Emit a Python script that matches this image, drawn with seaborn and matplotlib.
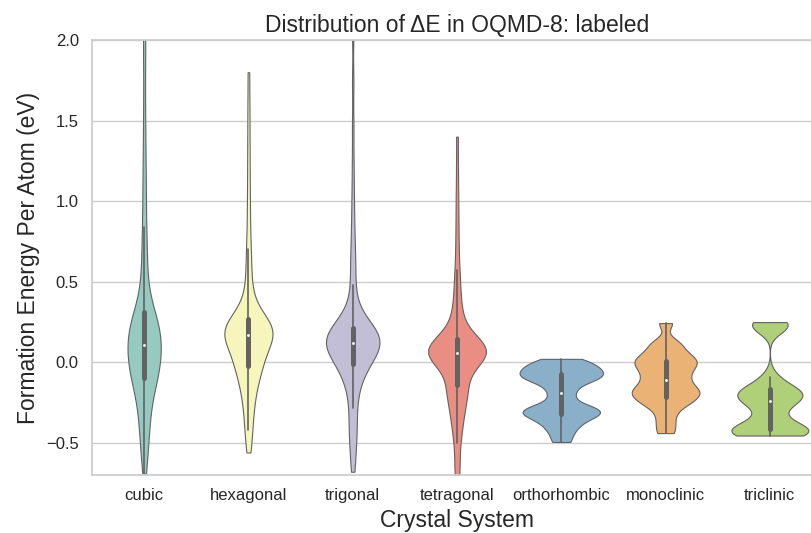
import pandas as pd
import matplotlib
matplotlib.use("Agg")
import matplotlib.pyplot as plt
import seaborn as sns

# Crystal systems in plotting order
systems = ["cubic", "hexagonal", "trigonal", "tetragonal",
           "orthorhombic", "monoclinic", "triclinic"]

# Formation energy per atom (eV) samples
cubic = [-0.69, -0.63, -0.58, -0.53, -0.49, -0.46, -0.43, -0.40, -0.37, -0.34,
         -0.31, -0.28, -0.26, -0.24, -0.22, -0.20, -0.18, -0.16, -0.14, -0.125,
         -0.11, -0.10,
         -0.095, -0.09, -0.08, -0.07, -0.06, -0.05, -0.04, -0.03, -0.02, -0.01,
         0.00, 0.01, 0.02, 0.03, 0.04, 0.05, 0.06, 0.07, 0.08, 0.09,
         0.10, 0.105,
         0.11, 0.115, 0.12, 0.13, 0.14, 0.15, 0.16, 0.17, 0.18, 0.19,
         0.20, 0.21, 0.22, 0.23, 0.24, 0.25, 0.26, 0.27, 0.28, 0.29,
         0.30, 0.305,
         0.32, 0.35, 0.38, 0.42, 0.46, 0.50, 0.55, 0.60, 0.66, 0.72,
         0.78, 0.84, 0.94, 1.02, 1.11, 1.21, 1.32, 1.45, 1.60, 1.78,
         1.95, 2.05]
hexagonal = [-0.56, -0.50, -0.46, -0.42, -0.38, -0.34, -0.31, -0.28, -0.25, -0.22,
             -0.20, -0.18, -0.16, -0.14, -0.12, -0.10, -0.09, -0.07, -0.06, -0.05,
             -0.04, -0.03,
             -0.02, -0.01, 0.00, 0.01, 0.02, 0.03, 0.04, 0.05, 0.06, 0.07,
             0.08, 0.09, 0.10, 0.11, 0.12, 0.13, 0.14, 0.145, 0.15, 0.155,
             0.16, 0.165,
             0.17, 0.175, 0.18, 0.184, 0.188, 0.192, 0.195, 0.198, 0.201, 0.204,
             0.207, 0.21, 0.213, 0.217, 0.221, 0.226, 0.231, 0.237, 0.243, 0.25,
             0.257, 0.266,
             0.27, 0.28, 0.30, 0.32, 0.34, 0.37, 0.40, 0.44, 0.48, 0.53,
             0.59, 0.65, 0.70, 0.78, 0.87, 0.97, 1.08, 1.20, 1.33, 1.47,
             1.62, 1.80]
trigonal = [-0.68, -0.61, -0.55, -0.50, -0.45, -0.41, -0.38, -0.36, -0.285, -0.25,
            -0.21, -0.18, -0.15, -0.125, -0.105, -0.085, -0.068, -0.053, -0.04, -0.027,
            -0.016,
            -0.008, 0.00, 0.008, 0.016, 0.024, 0.032, 0.04, 0.048, 0.056, 0.063,
            0.07, 0.077, 0.083, 0.089, 0.095, 0.10, 0.105, 0.109, 0.113, 0.116,
            0.119,
            0.123, 0.128, 0.133, 0.138, 0.143, 0.147, 0.151, 0.155, 0.159, 0.163,
            0.167, 0.171, 0.175, 0.179, 0.183, 0.187, 0.191, 0.195, 0.199, 0.204,
            0.21,
            0.22, 0.23, 0.245, 0.26, 0.28, 0.30, 0.33, 0.37, 0.42, 0.48,
            0.56, 0.61, 0.67, 0.75, 0.84, 0.95, 1.08, 1.25, 1.47, 1.74,
            2.05]
tetragonal = [-0.75, -0.69, -0.63, -0.58, -0.50, -0.46, -0.43, -0.40, -0.37, -0.34,
              -0.32, -0.30, -0.28, -0.26, -0.24, -0.22, -0.21, -0.19, -0.18, -0.17,
              -0.16, -0.15,
              -0.14, -0.12, -0.10, -0.08, -0.065, -0.05, -0.035, -0.02, -0.01, 0.00,
              0.008, 0.015, 0.021, 0.027, 0.032, 0.036, 0.04, 0.043, 0.046, 0.049,
              0.052, 0.054,
              0.056, 0.059, 0.062, 0.065, 0.068, 0.071, 0.074, 0.077, 0.08, 0.083,
              0.086, 0.089, 0.092, 0.096, 0.10, 0.104, 0.108, 0.113, 0.119, 0.126,
              0.134, 0.142,
              0.15, 0.16, 0.175, 0.19, 0.21, 0.23, 0.25, 0.28, 0.31, 0.34,
              0.38, 0.42, 0.47, 0.52, 0.57, 0.65, 0.74, 0.84, 0.95, 1.07,
              1.22, 1.40]
orthorhombic = [-0.495, -0.44, -0.40, -0.37, -0.345, -0.33,
                -0.315, -0.305, -0.295, -0.28, -0.26, -0.21,
                -0.17, -0.13, -0.11, -0.095, -0.085, -0.075,
                -0.06, -0.045, -0.03, -0.015, 0.00, 0.021]
monoclinic = [-0.44, -0.38, -0.32, -0.27, -0.25, -0.23,
              -0.21, -0.195, -0.18, -0.165, -0.15, -0.12,
              -0.10, -0.075, -0.05, -0.03, -0.01, 0.005,
              0.02, 0.04, 0.065, 0.10, 0.13, 0.243]
triclinic = [-0.455, -0.45, -0.445, -0.44, -0.43, -0.42, -0.41, -0.40, -0.385,
             -0.33, -0.28,
             -0.25, -0.235, -0.22, -0.205, -0.19, -0.18, -0.17, -0.145, -0.09,
             0.215, 0.225, 0.237, 0.249]

samples = [cubic, hexagonal, trigonal, tetragonal, orthorhombic, monoclinic, triclinic]
rows = []
for name, vals in zip(systems, samples):
    for v in vals:
        rows.append({"Crystal System": name, "Formation Energy Per Atom (eV)": v})
df = pd.DataFrame(rows)

sns.set_theme(style="whitegrid")
plt.rcParams["font.family"] = ["Liberation Sans", "DejaVu Sans"]

fig = plt.figure(figsize=(8.12, 5.33), dpi=100)
ax = fig.add_axes([92 / 812, 58 / 533, 730 / 812, 435 / 533])

sns.violinplot(data=df, x="Crystal System", y="Formation Energy Per Atom (eV)",
               hue="Crystal System", order=systems, palette="Set3",
               cut=0, bw_method=0.22, common_norm=True, linewidth=0.8,
               inner_kws=dict(marker="o", markersize=1.5, markeredgewidth=0.5),
               legend=False, ax=ax)

ax.set_ylim(-0.7, 2.0)
ax.set_xlim(-0.5, 6.5)
ax.set_title("Distribution of ΔE in OQMD-8: labeled", fontsize=16.5)
ax.set_xlabel("Crystal System", fontsize=16.5)
ax.set_ylabel("Formation Energy Per Atom (eV)", fontsize=16.5)
ax.tick_params(labelsize=12)

fig.savefig("out.png", dpi=100)
